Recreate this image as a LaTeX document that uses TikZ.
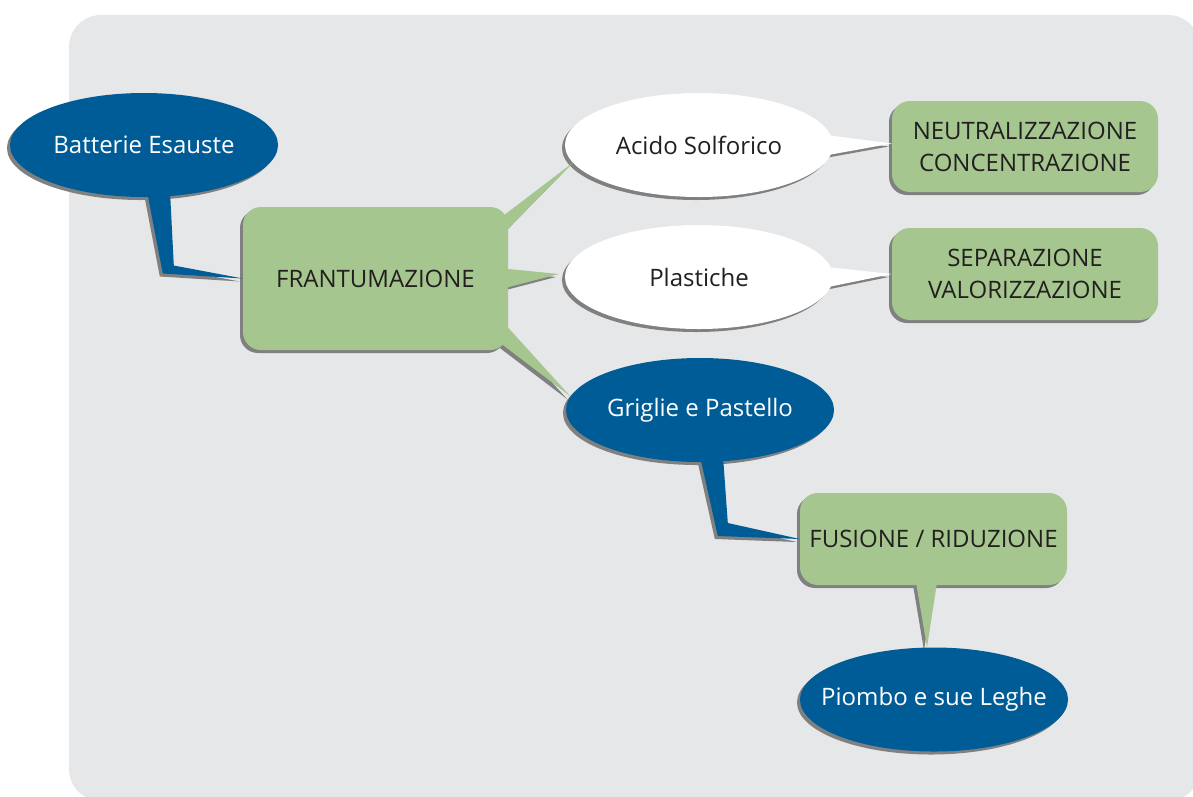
\documentclass[tikz,border=0pt]{standalone}
\usepackage{fontspec}
\setmainfont{Open Sans}
\usetikzlibrary{shapes.geometric,shadows,calc}
\pgfdeclarelayer{back}
\pgfdeclarelayer{tailshade}
\pgfdeclarelayer{fore}
\pgfsetlayers{back,tailshade,main,fore}

\definecolor{panelgray}{RGB}{230,231,232}
\definecolor{cloudblue}{RGB}{0,92,150}
\definecolor{leafgreen}{RGB}{165,198,142}
\definecolor{shadegray}{RGB}{128,128,128}
\definecolor{inkdark}{RGB}{35,31,32}

% callout tail: shadow under the nodes, fill over them
\newcommand{\tailfill}[2]{%
  \begin{pgfonlayer}{tailshade}\fill[shadegray,transform canvas={shift={(-3pt,-3pt)}}] #2;\end{pgfonlayer}%
  \begin{pgfonlayer}{fore}\fill[#1] #2;\end{pgfonlayer}}

\begin{document}
\begin{tikzpicture}[x=1pt,y=-1pt,
  every node/.style={font=\fontsize{24}{32}\selectfont,inner sep=0pt},
  dropgray/.style={drop shadow={shadow xshift=-3pt,shadow yshift=-3pt,fill=shadegray,opacity=1}},
  blob/.style={ellipse,dropgray,minimum width=268pt,minimum height=104pt},
  blueblob/.style={blob,fill=cloudblue,text=white},
  whiteblob/.style={blob,fill=white,text=inkdark},
  stagebox/.style={rectangle,rounded corners=18pt,dropgray,fill=leafgreen,text=inkdark,align=center}]
\useasboundingbox (0,0) rectangle (1193,796);

\begin{pgfonlayer}{back}
  \fill[panelgray,rounded corners=32pt] (69,15) rectangle (1200,801);
\end{pgfonlayer}

\node[blueblob] (bat) at (144,145) {\makebox[0pt]{Batterie Esauste}};
\node[stagebox,minimum width=265pt,minimum height=143pt] (frant) at (375.5,278.5) {FRANTUMAZIONE};
\node[whiteblob] (acido) at (699,145) {\makebox[0pt]{Acido Solforico}};
\node[whiteblob] (plast) at (699,277) {\makebox[0pt]{Plastiche}};
\node[blueblob] (grig) at (700,410) {\makebox[0pt]{Griglie e Pastello}};
\node[stagebox,minimum width=266pt,minimum height=91pt] (neutr) at (1025,146.5) {NEUTRALIZZAZIONE\\CONCENTRAZIONE};
\node[stagebox,minimum width=266pt,minimum height=92pt] (separ) at (1025,274) {SEPARAZIONE\\VALORIZZAZIONE};
\node[stagebox,minimum width=267pt,minimum height=92pt] (fus) at (933.5,539) {FUSIONE / RIDUZIONE};
\node[blueblob] (piombo) at (934,699.5) {\makebox[0pt]{Piombo e sue Leghe}};

% tails
\tailfill{cloudblue}{($(bat.south)+(3,-6)$) -- ($(frant.west)+(-80,-5)$) -- (frant.west) -- ($(frant.west)+(-69,-13)$) -- ($(bat.south)+(26,-6)$) -- cycle}
\tailfill{leafgreen}{($(frant.north east)+(-5,9)$) -- (acido.188) -- ($(frant.north east)+(-5,27)$) -- cycle}
\tailfill{leafgreen}{($(frant.east)+(-5,-10)$) -- ($(plast.west)+(-6,-3)$) -- ($(frant.east)+(-5,10)$) -- cycle}
\tailfill{leafgreen}{($(frant.south east)+(-5,-28)$) -- (grig.174) -- ($(frant.south east)+(-9,-8)$) -- cycle}
\tailfill{white}{($(acido.east)+(-7,-10)$) -- ($(neutr.west)+(0,-3)$) -- ($(acido.east)+(-5,10)$) -- cycle}
\tailfill{white}{($(plast.east)+(-7,-10)$) -- (separ.west) -- ($(plast.east)+(-5,10)$) -- cycle}
\tailfill{cloudblue}{($(grig.south)+(0,-6)$) -- ($(fus.west)+(-82,-3)$) -- (fus.west) -- ($(fus.west)+(-72,-16)$) -- ($(grig.south)+(23,-6)$) -- cycle}
\tailfill{leafgreen}{($(fus.south)+(-18,-6)$) -- ($(piombo.north)+(-7,0)$) -- ($(fus.south)+(4,-6)$) -- cycle}

\end{tikzpicture}
\end{document}
